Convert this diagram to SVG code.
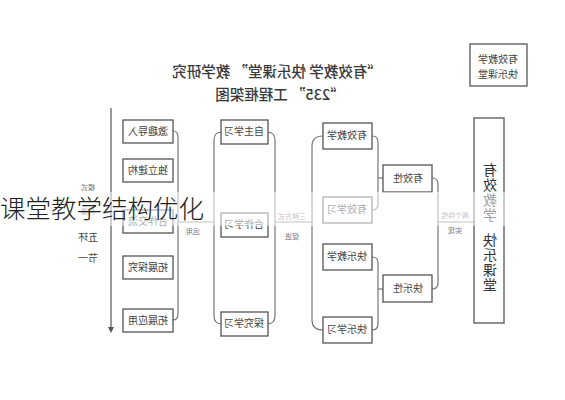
<svg xmlns="http://www.w3.org/2000/svg" width="565" height="400" viewBox="0 0 565 400">
<defs>
<style>
.box{fill:#fff;stroke:#555;stroke-width:1.3}
.ln{fill:none;stroke:#777;stroke-width:1.2}
.t{font-family:"Noto Sans CJK SC","Liberation Serif",serif;font-size:10px;fill:#444;text-anchor:middle}
.s{font-family:"Noto Sans CJK SC","Liberation Serif",serif;font-size:7px;fill:#777;text-anchor:middle}
.h{font-family:"Noto Sans CJK SC","Liberation Serif",serif;font-size:14.5px;fill:#3a3a3a;text-anchor:middle;font-weight:500}
.v{font-family:"Noto Sans CJK SC","Liberation Serif",serif;font-size:14px;fill:#333;text-anchor:middle}
</style>
</defs>
<rect width="565" height="400" fill="#fff"/>
<g id="title">
<text class="h" transform="translate(277,77) scale(-1,1)">“有效教学 快乐课堂” 教学研究</text>
<text class="h" transform="translate(280,100) scale(-1,1)">“235” 工程框架图</text>
</g>
<g id="legend">
<rect class="box" x="470" y="44" width="57" height="42"/>
<text class="t" transform="translate(498,63) scale(-1,1)">有效教学</text>
<text class="t" transform="translate(498,78) scale(-1,1)">快乐课堂</text>
</g>
<g id="connectors">
<line x1="111" y1="108" x2="111" y2="329" stroke="#555" stroke-width="1.2"/>
<path d="M108,327 L114,327 L111,333 Z" fill="#555"/>
<path class="ln" d="M173,131 Q178,131 178,137 L178,314 Q178,320 173,320"/>
<line class="ln" x1="178" y1="222" x2="214" y2="222"/>
<path class="ln" d="M222,132 Q214,132 214,140 L214,316 Q214,324 222,324"/>
<path class="ln" d="M267,132 Q275,132 275,140 L275,316 Q275,324 267,324"/>
<line class="ln" x1="275" y1="222" x2="312" y2="222"/>
<path class="ln" d="M323,136 Q312,136 312,146 L312,320 Q312,330 323,330"/>
<path class="ln" d="M372,136 Q378,136 378,142 L378,204 Q378,210 372,210"/>
<line class="ln" x1="378" y1="178" x2="383" y2="178"/>
<path class="ln" d="M372,257 Q378,257 378,263 L378,324 Q378,330 372,330"/>
<line class="ln" x1="378" y1="289" x2="383" y2="289"/>
<path class="ln" d="M432,178 Q438,178 438,184 L438,283 Q438,289 432,289"/>
<line class="ln" x1="438" y1="222" x2="474" y2="222"/>
<text class="s" transform="translate(88,190) scale(-1,1)">模式</text>
<text class="s" transform="translate(88,214) scale(-1,1)">构建</text>
<text class="t" transform="translate(88,241) scale(-1,1)">五环</text>
<text class="t" transform="translate(88,262) scale(-1,1)">节一</text>
<text class="s" transform="translate(193,234) scale(-1,1)">运用</text>
<text class="s" transform="translate(292,219) scale(-1,1)">三种方式</text>
<text class="s" transform="translate(292,239) scale(-1,1)">促进</text>
<text class="s" transform="translate(455,218) scale(-1,1)">两个特性</text>
<text class="s" transform="translate(455,233) scale(-1,1)">实现</text>
</g>
<g id="n1"><rect class="box" x="123" y="120" width="50" height="23"/><text class="t" transform="translate(148,135) scale(-1,1)">激趣导入</text></g>
<g id="n2"><rect class="box" x="123" y="159" width="50" height="23"/><text class="t" transform="translate(148,174) scale(-1,1)">独立建构</text></g>
<g id="n3"><rect class="box" x="123" y="210" width="50" height="23"/><text class="t" transform="translate(148,225) scale(-1,1)">合作交流</text></g>
<g id="n4"><rect class="box" x="123" y="256" width="50" height="23"/><text class="t" transform="translate(148,271) scale(-1,1)">拓展探究</text></g>
<g id="n5"><rect class="box" x="123" y="309" width="50" height="23"/><text class="t" transform="translate(148,324) scale(-1,1)">拓展应用</text></g>
<g id="m1"><rect class="box" x="221" y="120" width="47" height="24"/><text class="t" transform="translate(244,135) scale(-1,1)">自主学习</text></g>
<g id="m2"><rect class="box" x="221" y="213" width="47" height="24"/><text class="t" transform="translate(244,228) scale(-1,1)">合作学习</text></g>
<g id="m3"><rect class="box" x="221" y="312" width="47" height="24"/><text class="t" transform="translate(244,327) scale(-1,1)">探究学习</text></g>
<g id="p1"><rect class="box" x="323" y="123" width="49" height="26"/><text class="t" transform="translate(347,139) scale(-1,1)">有效教学</text></g>
<g id="p2"><rect class="box" x="323" y="197" width="49" height="26"/><text class="t" transform="translate(347,213) scale(-1,1)">有效学习</text></g>
<g id="p3"><rect class="box" x="323" y="244" width="49" height="26"/><text class="t" transform="translate(347,260) scale(-1,1)">快乐教学</text></g>
<g id="p4"><rect class="box" x="323" y="317" width="49" height="26"/><text class="t" transform="translate(347,333) scale(-1,1)">快乐学习</text></g>
<g id="q1"><rect class="box" x="383" y="165" width="49" height="27"/><text class="t" transform="translate(408,182) scale(-1,1)">有效性</text></g>
<g id="q2"><rect class="box" x="383" y="275" width="49" height="27"/><text class="t" transform="translate(408,292) scale(-1,1)">快乐性</text></g>
<g id="r1">
<rect class="box" x="474" y="118" width="30" height="205"/>
<text class="v" transform="translate(490,175) scale(-1,1)">有</text>
<text class="v" transform="translate(490,190) scale(-1,1)">效</text>
<text class="v" transform="translate(490,205) scale(-1,1)">教</text>
<text class="v" transform="translate(490,220) scale(-1,1)">学</text>
<text class="v" transform="translate(490,245) scale(-1,1)">快</text>
<text class="v" transform="translate(490,260) scale(-1,1)">乐</text>
<text class="v" transform="translate(490,275) scale(-1,1)">课</text>
<text class="v" transform="translate(490,290) scale(-1,1)">堂</text>
</g>
<g id="overlay">
<rect x="0" y="192" width="565" height="34" fill="#fff" fill-opacity="0.55"/>
<text x="0" y="218" font-family="Noto Sans CJK SC, sans-serif" font-size="25.5" font-weight="300" fill="#222">课堂教学结构优化</text>
</g>
</svg>
